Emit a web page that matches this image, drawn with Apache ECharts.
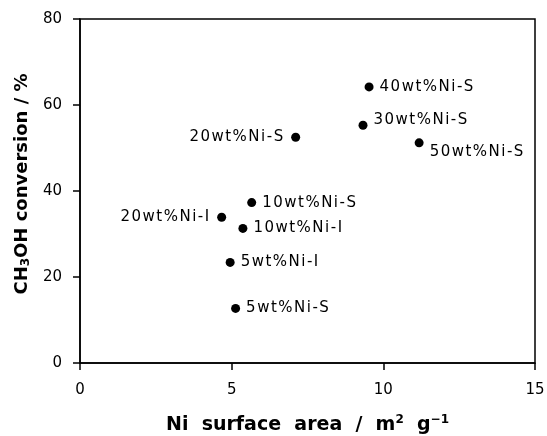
<!DOCTYPE html>
<html>
<head>
<meta charset="utf-8">
<script src="https://cdn.jsdelivr.net/npm/echarts@6/dist/echarts.min.js"></script>
<style>
  html, body { margin: 0; padding: 0; background: #fff; }
  #main { width: 547px; height: 436px; }
</style>
</head>
<body>
<div id="main"></div>
<script>
  // catalyst samples
  const sampleNames = ['40wt%Ni-S', '30wt%Ni-S', '20wt%Ni-S', '50wt%Ni-S', '10wt%Ni-S',
    '20wt%Ni-I', '10wt%Ni-I', '5wt%Ni-I', '5wt%Ni-S'];
  // Ni surface area, m2/g
  const surfaceArea = [9.53, 9.33, 7.11, 11.18, 5.66, 4.67, 5.37, 4.95, 5.13];
  // CH3OH conversion, %
  const conversion = [64.2, 55.3, 52.5, 51.2, 37.3, 33.9, 31.3, 23.4, 12.7];
  const xTicks = [0, 5, 10, 15];
  const yTicks = [0, 20, 40, 60, 80];

  const chartDom = document.getElementById('main');
  const myChart = echarts.init(chartDom);

  const font = 'DejaVu Sans';
  // spread the letters a bit, the original lettering is wide
  const spaced = (s) => s.split('').join('\u200a');

  // which labels sit on the left of their dot, and small nudges
  const leftLabels = ['20wt%Ni-S', '20wt%Ni-I'];
  const nudges = { '30wt%Ni-S': [0, -5], '50wt%Ni-S': [0, 9] };

  const points = sampleNames.map((name, i) => {
    const left = leftLabels.includes(name);
    return {
      name: name,
      value: [surfaceArea[i], conversion[i]],
      label: {
        show: true,
        position: left ? 'left' : 'right',
        distance: left ? 8 : 6,
        offset: nudges[name] || [0, 0],
        formatter: () => spaced(name),
        fontFamily: font,
        fontSize: 15,
        color: '#000'
      }
    };
  });

  const axisCommon = {
    axisLine: { show: true, lineStyle: { color: '#000', width: 1.5 } },
    axisTick: { show: true, inside: false, length: 7, lineStyle: { color: '#000', width: 1.5 } },
    splitLine: { show: false },
    axisLabel: { color: '#000', fontFamily: font, fontSize: 15 }
  };

  const option = {
    backgroundColor: '#ffffff',
    animation: false,
    grid: {
      left: 80,
      right: 12,
      top: 19,
      bottom: 73,
      containLabel: false,
      outerBoundsMode: 'none',
      show: true,
      borderColor: '#000',
      borderWidth: 1.5
    },
    xAxis: {
      type: 'value',
      min: xTicks[0],
      max: xTicks[xTicks.length - 1],
      interval: xTicks[1] - xTicks[0],
      name: '{t|Ni  surface  area  /  m}{sup|2}{t|  g}{sup|\u22121}',
      nameLocation: 'middle',
      nameGap: 51,
      nameTextStyle: {
        rich: {
          t: { fontFamily: font, fontSize: 19, fontWeight: 'bold', color: '#000' },
          sup: { fontFamily: font, fontSize: 12, fontWeight: 'bold', color: '#000', verticalAlign: 'top', padding: [0, 0, 10, 0] }
        }
      },
      ...axisCommon,
      axisLabel: { ...axisCommon.axisLabel, margin: 20 }
    },
    yAxis: {
      type: 'value',
      min: yTicks[0],
      max: yTicks[yTicks.length - 1],
      interval: yTicks[1] - yTicks[0],
      name: '{t|CH}{sub|3}{t|OH conversion / %}',
      nameLocation: 'middle',
      nameGap: 46,
      nameRotate: 90,
      nameTextStyle: {
        padding: [0, 0, 0, 14],
        rich: {
          t: { fontFamily: font, fontSize: 18, fontWeight: 'bold', color: '#000' },
          sub: { fontFamily: font, fontSize: 12, fontWeight: 'bold', color: '#000', padding: [8, 0, 0, 0] }
        }
      },
      ...axisCommon,
      axisLabel: { ...axisCommon.axisLabel, margin: 18 }
    },
    series: [
      {
        type: 'scatter',
        symbol: 'circle',
        symbolSize: 9,
        itemStyle: { color: '#000', opacity: 1 },
        data: points
      }
    ]
  };

  myChart.setOption(option);
</script>
</body>
</html>
